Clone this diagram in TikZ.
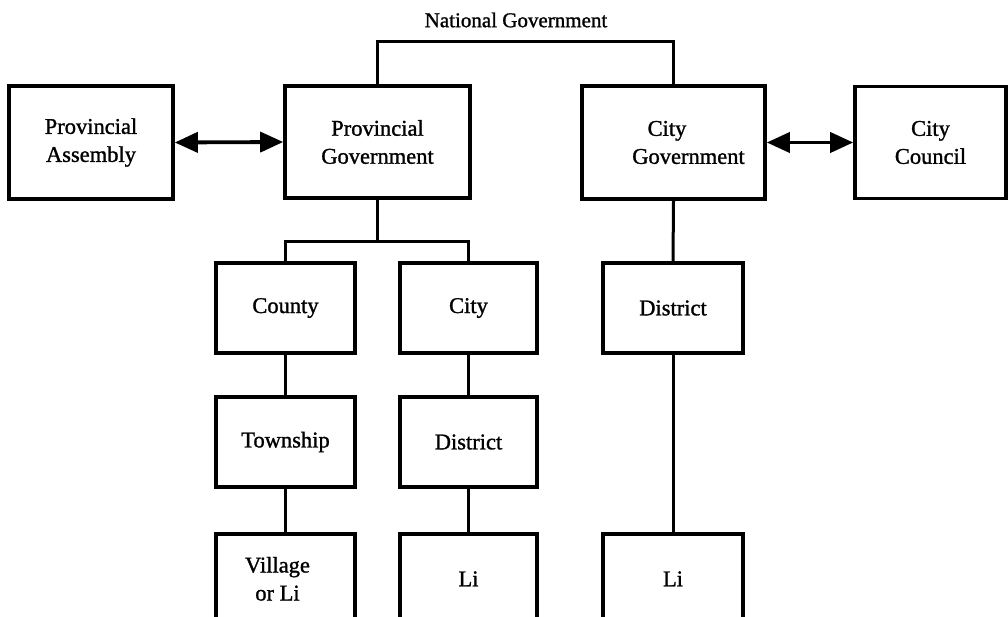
\documentclass[tikz,border=0pt]{standalone}
\usepackage{fontspec}
\setmainfont{Liberation Serif}[FakeBold=1.2]
\usetikzlibrary{arrows.meta}
\begin{document}
\begin{tikzpicture}[x=1pt,y=-1pt,
  box/.style={draw,line width=3.6pt,align=center,inner sep=0pt,
    font=\fontsize{22.5}{28}\selectfont},
  link/.style={line width=3pt},
  twoway/.style={line width=3.8pt,{Triangle[length=23pt,width=20pt]}-{Triangle[length=23pt,width=20pt]}},
  lbl/.style={font=\fontsize{21}{26}\selectfont,inner sep=0pt}]
\useasboundingbox (0,0) rectangle (1008,617);
\clip (0,0) rectangle (1008,617);

% top level
\node[lbl] (nat) at (516,20) {National Government};
\node[box,minimum width=164pt,minimum height=113pt] (pa) at (91,142.5) {Provincial\\Assembly};
\node[box,minimum width=185pt,minimum height=112pt] (pg) at (377.5,142) {Provincial\\Government};
\node[box,minimum width=183pt,minimum height=113pt] (cg) at (673.5,142.5) {City\hspace*{13pt}\\\hspace*{30pt}Government};
\node[box,minimum width=151pt,minimum height=112pt] (cc) at (930.5,142.5) {City\\Council};

% second level
\node[box,minimum width=139pt,minimum height=90pt] (county) at (285.5,308) {County};
\node[box,minimum width=137pt,minimum height=90pt] (city) at (468.5,308) {City};
\node[box,minimum width=140pt,minimum height=90pt] (distr) at (673,308) {District};

% third level
\node[box,minimum width=139pt,minimum height=90pt] (town) at (285.5,442) {Township};
\node[box,minimum width=137pt,minimum height=90pt] (distm) at (468.5,442) {District};

% fourth level
\node[box,minimum width=139pt,minimum height=90pt,anchor=north] (vill) at (285.5,532) {Village\hspace*{16pt}\\or Li\hspace*{16pt}};
\node[box,minimum width=137pt,minimum height=90pt,anchor=north] (lim) at (468.5,532) {Li};
\node[box,minimum width=140pt,minimum height=90pt,anchor=north] (lir) at (673,532) {Li};

% national branch
\coordinate (natbar) at (500,42);
\draw[link] (pg.north) |- (natbar) -| (cg.north);

% provincial branch
\coordinate (provbar) at (377.5,242);
\draw[link] (pg.south) -- (provbar);
\draw[link] (county.north) |- (provbar) -| (city.north);
\draw[link] (county) -- (town);
\draw[link] (town) -- (vill);
\draw[link] (city) -- (distm);
\draw[link] (distm) -- (lim);

% city branch
\draw[link] (cg.south) -- (distr.north);
\draw[link] (distr) -- (lir);

% two-way links
\draw[twoway] (pa.east) -- (pg.west);
\draw[twoway] (cg.east) -- (cc.west);
\end{tikzpicture}
\end{document}
